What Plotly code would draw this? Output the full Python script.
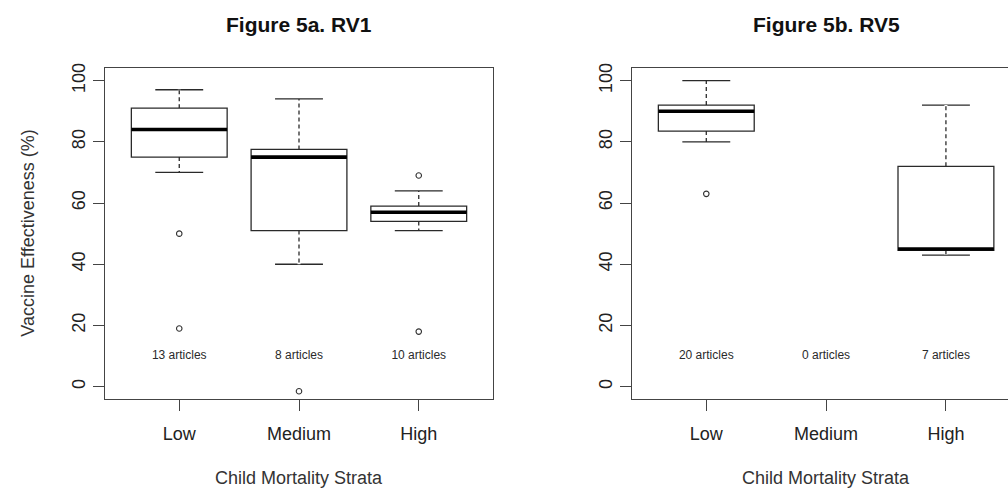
import plotly.graph_objects as go

categories = ["Low", "Medium", "High"]
positions = [1, 2, 3]

# Figure 5a. RV1
rv1_lower = [70, 40, 51]
rv1_q1 = [75, 51, 54]
rv1_median = [84, 75, 57]
rv1_q3 = [91, 77.5, 59]
rv1_upper = [97, 94, 64]
rv1_outliers = [[50, 19], [-1.5], [69, 18]]
rv1_articles = [13, 8, 10]

# Figure 5b. RV5 (no Medium articles)
rv5_lower = [80, None, 43]
rv5_q1 = [83.5, None, 44.5]
rv5_median = [90, None, 45]
rv5_q3 = [92, None, 72]
rv5_upper = [100, None, 92]
rv5_outliers = [[63], [], []]
rv5_articles = [20, 0, 7]

LABEL_Y = 10
BOX_W = 0.8
FONT = "Liberation Sans, Arial, sans-serif"
LINE = "#2a2a2a"
AXC = "#444444"

fig = go.Figure()


def add_panel(xa, ya, lower, q1, med, q3, upper, outliers, articles):
    for p, lo, a, m, b, up, outs in zip(positions, lower, q1, med, q3, upper, outliers):
        if m is not None:
            fig.add_trace(go.Box(
                x=[p], q1=[a], median=[m], q3=[b], lowerfence=[lo], upperfence=[up],
                width=BOX_W, whiskerwidth=0.5, fillcolor="white",
                line=dict(color=LINE, width=1.3), boxpoints=False,
                xaxis=xa, yaxis=ya, hoverinfo="skip"))
            # dashed look for whiskers (white gaps over solid whisker)
            fig.add_trace(go.Scatter(
                x=[p, p, None, p, p], y=[b, up, None, a, lo], mode="lines",
                line=dict(color="white", width=3, dash="0px,4px,3px,0px"),
                xaxis=xa, yaxis=ya, hoverinfo="skip"))
            # thick median
            fig.add_trace(go.Scatter(
                x=[p - BOX_W / 2, p + BOX_W / 2], y=[m, m], mode="lines",
                line=dict(color="black", width=3.6),
                xaxis=xa, yaxis=ya, hoverinfo="skip"))
        if outs:
            fig.add_trace(go.Scatter(
                x=[p] * len(outs), y=outs, mode="markers",
                marker=dict(symbol="circle-open", size=5.5, color="#333333", line=dict(width=1.1)),
                xaxis=xa, yaxis=ya))
    fig.add_trace(go.Scatter(
        x=positions, y=[LABEL_Y] * len(positions), mode="text",
        text=[f"{n} articles" for n in articles],
        textfont=dict(family=FONT, size=12, color="#2a2a2a"),
        xaxis=xa, yaxis=ya, hoverinfo="skip"))


add_panel("x", "y", rv1_lower, rv1_q1, rv1_median, rv1_q3, rv1_upper, rv1_outliers, rv1_articles)
add_panel("x2", "y2", rv5_lower, rv5_q1, rv5_median, rv5_q3, rv5_upper, rv5_outliers, rv5_articles)

xcommon = dict(tickvals=positions, ticktext=categories, ticks="outside", ticklen=11,
               tickcolor=AXC, tickwidth=1.3, showline=True, linecolor=AXC, linewidth=1.3,
               mirror=True, showgrid=False, zeroline=False,
               tickfont=dict(family=FONT, size=18, color="#222222"), ticklabelstandoff=7)
ycommon = dict(range=[-4, 104], tickvals=[0, 20, 40, 60, 80, 100], tickangle=-90,
               ticks="outside", ticklen=11, tickcolor=AXC, tickwidth=1.3,
               showline=True, linecolor=AXC, linewidth=1.3, showgrid=False, zeroline=False,
               tickfont=dict(family=FONT, size=18, color="#222222"), ticklabelstandoff=1)

L_DOM = [105 / 1008, 493 / 1008]
R_DOM = [632 / 1008, 1.0]
Y_DOM = [1 - 398 / 488, 1 - 64 / 488]


def ann(text, xpx, ypx, size, color, angle=0):
    return dict(text=text, x=xpx / 1008, y=1 - ypx / 488, xref="paper", yref="paper",
                xanchor="center", yanchor="middle", showarrow=False, textangle=angle,
                font=dict(family=FONT, size=size, color=color))


fig.update_layout(
    width=1008, height=488, margin=dict(l=0, r=0, t=0, b=0),
    paper_bgcolor="white", plot_bgcolor="white", showlegend=False,
    xaxis=dict(domain=L_DOM, range=[0.38, 3.62], anchor="y", **xcommon),
    yaxis=dict(domain=Y_DOM, anchor="x", mirror=True, **ycommon),
    xaxis2=dict(domain=R_DOM, range=[0.38, 3.518], anchor="y2", **xcommon),
    yaxis2=dict(domain=Y_DOM, anchor="x2", mirror=False, **ycommon),
    annotations=[
        ann("<b>Figure 5a. RV1</b>", 299, 20, 21, "#111111"),
        ann("<b>Figure 5b. RV5</b>", 826, 20, 21, "#111111"),
        ann("Child Mortality Strata", 299, 478, 18, "#333333"),
        ann("Child Mortality Strata", 826, 478, 18, "#333333"),
        ann("Vaccine Effectiveness (%)", 28, 231, 18, "#333333", -90),
    ],
)

fig.write_html("out.html")
